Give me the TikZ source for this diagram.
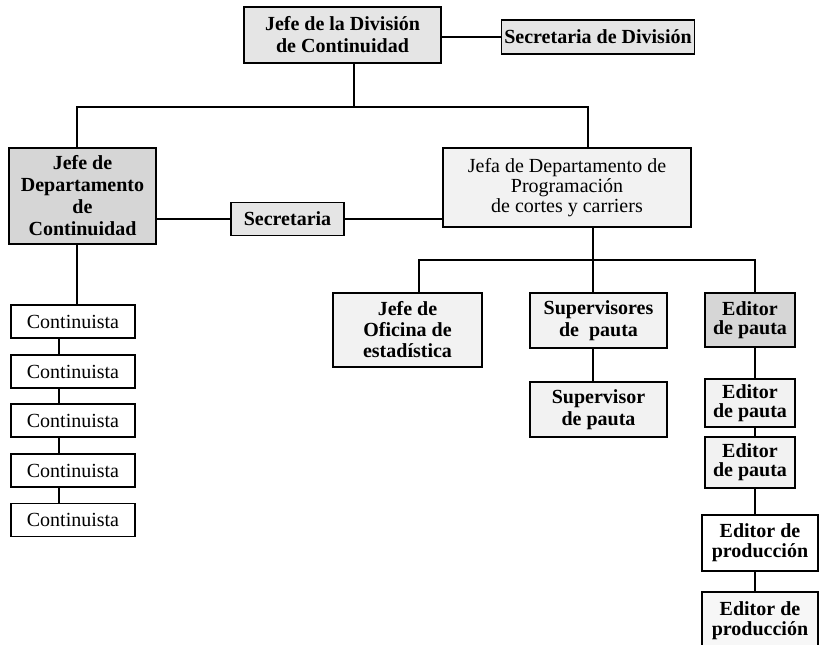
\documentclass[tikz,border=0pt]{standalone}
\usepackage{fontspec}
\setmainfont{Liberation Serif}
\begin{document}
\begin{tikzpicture}[x=1pt,y=-1pt,
  box/.style={draw, line width=1.3pt, align=center, inner sep=1pt,
    font=\fontsize{20}{22}\selectfont\bfseries},
  plainbox/.style={box, font=\fontsize{20}{22}\selectfont},
  heavy/.style={fill=black!16},
  medium/.style={fill=black!10},
  light/.style={fill=black!5},
  link/.style={line width=1.2pt}]
\useasboundingbox (0,0) rectangle (820,645);

% bus junctions
\coordinate (busA) at (354,107);
\coordinate (busAl) at (77,107);
\coordinate (busAr) at (588,107);
\coordinate (busB) at (593,260);
\coordinate (busBl) at (419,260);
\coordinate (busBr) at (755,260);
\coordinate (colC) at (59,0);
\coordinate (colE) at (755,0);

% top level
\node[box, medium, minimum width=197pt, minimum height=56pt] (top) at (342.5,35)
  {Jefe de la División\\de Continuidad};
\node[box, medium, minimum width=193pt, minimum height=34pt] (secdiv) at (598,37)
  {Secretaria de División};

% departments
\node[box, heavy, minimum width=147pt, minimum height=96pt] (jdc) at (82.5,196)
  {Jefe de\\Departamento\\de\\Continuidad};
\node[box, medium, minimum width=113pt, minimum height=33pt] (sec) at (287.5,219)
  {Secretaria};
\node[plainbox, light, minimum width=248pt, minimum height=79pt, font=\fontsize{20}{20}\selectfont] (jefa) at (567,187.5)
  {Jefa de Departamento de\\Programación\\de cortes y carriers};

% continuistas
\foreach \i/\y in {1/321.5, 2/371.5, 3/420.5, 4/470.5, 5/520}
  \node[plainbox, minimum width=124pt, minimum height=33pt] (c\i) at (73,\y) {Continuista};

% programming staff
\node[box, light, minimum width=149pt, minimum height=74pt, font=\fontsize{20}{21}\selectfont\bfseries] (ofi) at (407.5,330)
  {Jefe de\\Oficina de\\estadística};
\node[box, light, minimum width=137pt, minimum height=55pt] (supes) at (598.5,320.5)
  {Supervisores\\de~~pauta};
\node[box, light, minimum width=137pt, minimum height=55pt] (sup) at (598.5,409.5)
  {Supervisor\\de pauta};

% editors
\tikzset{edbox/.style={box, minimum width=90pt, font=\fontsize{20}{19}\selectfont\bfseries}}
\node[edbox, heavy, minimum height=54pt] (ed1) at (750,320) {Editor\\de pauta};
\node[edbox, light, minimum height=48pt] (ed2) at (750,403) {Editor\\de pauta};
\node[edbox, light, minimum height=51pt] (ed3) at (750,462.5) {Editor\\de pauta};
\node[box, minimum width=116pt, minimum height=56pt, font=\fontsize{20}{20}\selectfont\bfseries] (prod1) at (760,543) {Editor de\\producción};
\node[box, fill=black!3, minimum width=116pt, minimum height=58pt, font=\fontsize{20}{20}\selectfont\bfseries] (prod2) at (760,621) {Editor de\\producción};

% connectors
\draw[link] (top.east |- secdiv.west) -- (secdiv.west);
\draw[link] (busA |- top.south) -- (busA);
\draw[link] (busAl |- jdc.north) -- (busAl) -- (busAr) -- (busAr |- jefa.north);
\draw[link] (jdc.east |- sec.west) -- (sec.west);
\draw[link] (sec.east) -- (jefa.west |- sec.east);
\draw[link] (busAl |- jdc.south) -- (busAl |- c1.north);
\foreach \a/\b in {1/2, 2/3, 3/4, 4/5}
  \draw[link] (colC |- c\a.south) -- (colC |- c\b.north);
\draw[link] (busB |- jefa.south) -- (busB);
\draw[link] (busBl |- ofi.north) -- (busBl) -- (busBr) -- (busBr |- ed1.north);
\draw[link] (busB) -- (busB |- supes.north);
\draw[link] (busB |- supes.south) -- (busB |- sup.north);
\draw[link] (colE |- ed1.south) -- (colE |- ed2.north);
\draw[link] (colE |- ed2.south) -- (colE |- ed3.north);
\draw[link] (colE |- ed3.south) -- (colE |- prod1.north);
\draw[link] (colE |- prod1.south) -- (colE |- prod2.north);
\end{tikzpicture}
\end{document}
